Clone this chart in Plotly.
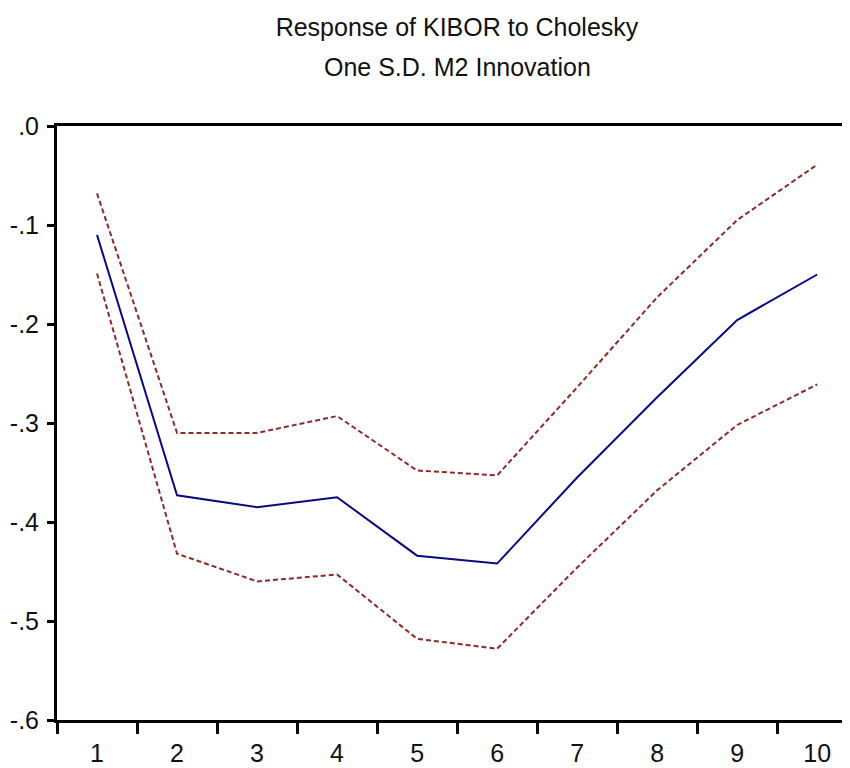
import plotly.graph_objects as go

periods = [1, 2, 3, 4, 5, 6, 7, 8, 9, 10]
response = [-0.110, -0.373, -0.385, -0.375, -0.434, -0.442, -0.355, -0.274, -0.196, -0.150]
upper = [-0.068, -0.310, -0.310, -0.293, -0.348, -0.353, -0.264, -0.173, -0.095, -0.039]
lower = [-0.149, -0.432, -0.460, -0.453, -0.518, -0.528, -0.446, -0.368, -0.302, -0.261]

y_tickvals = [0.0, -0.1, -0.2, -0.3, -0.4, -0.5, -0.6]
y_ticktext = [".0", "-.1", "-.2", "-.3", "-.4", "-.5", "-.6"]
x_boundaries = [p - 0.5 for p in periods]

title_line1 = "Response of KIBOR to Cholesky"
title_line2 = "One S.D. M2 Innovation"

band_color = "#8B2A2A"
line_color = "#0A0A80"
font_family = "Liberation Sans, Arial, sans-serif"

W, H = 842, 760
L, T, B = 49, 118, 48
plot_w = W - L
plot_h = H - T - B

fig = go.Figure()
fig.add_trace(go.Scatter(x=periods, y=upper, mode="lines",
                         line=dict(color=band_color, width=2, dash="5px,3px"),
                         showlegend=False, hoverinfo="skip"))
fig.add_trace(go.Scatter(x=periods, y=lower, mode="lines",
                         line=dict(color=band_color, width=2, dash="5px,3px"),
                         showlegend=False, hoverinfo="skip"))
fig.add_trace(go.Scatter(x=periods, y=response, mode="lines",
                         line=dict(color=line_color, width=2),
                         showlegend=False))

fig.update_layout(
    width=W, height=H,
    margin=dict(l=L, r=0, t=T, b=B, autoexpand=False),
    paper_bgcolor="white", plot_bgcolor="white",
    font=dict(family=font_family, color="#111111", size=24),
    title=dict(text=title_line1, x=449 / W, xanchor="center", y=1 - 19 / H, yanchor="middle",
               font=dict(family=font_family, size=25, color="#111111")),
    annotations=[dict(text=title_line2, xref="paper", yref="paper",
                      x=(449 - L) / plot_w, y=1 + (T - 59) / plot_h,
                      xanchor="center", yanchor="middle", showarrow=False,
                      font=dict(family=font_family, size=25, color="#111111"))],
    showlegend=False,
)
fig.update_xaxes(
    range=[0.5, 10.41], showgrid=False, zeroline=False, automargin=False,
    showline=True, linecolor="black", linewidth=3, mirror=True,
    tickmode="array", tickvals=periods, ticktext=[str(p) for p in periods],
    ticks="", ticklabelstandoff=9,
    tickfont=dict(size=25),
    minor=dict(tickmode="array", tickvals=x_boundaries, ticks="outside",
               ticklen=11, tickwidth=3, tickcolor="black", showgrid=False),
)
fig.update_yaxes(
    range=[-0.6, 0.0], showgrid=False, zeroline=False, automargin=False,
    showline=True, linecolor="black", linewidth=3, mirror=False,
    tickmode="array", tickvals=y_tickvals, ticktext=y_ticktext,
    ticks="outside", ticklen=7, tickwidth=3, tickcolor="black",
    tickfont=dict(size=25), ticklabelstandoff=3,
)

fig.write_html("out.html")
